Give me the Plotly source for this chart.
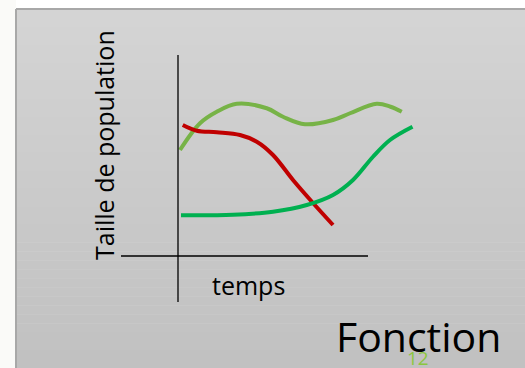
import plotly.graph_objects as go

W, H = 525, 368

# ---- data (time units, population units) ----
light_t = [0.08, 0.88, 1.55, 2.35, 3.55, 4.2, 5.08, 6.2, 6.88, 7.95, 8.5, 8.95]
light_p = [4.24, 5.31, 5.77, 6.09, 5.91, 5.57, 5.27, 5.44, 5.71, 6.09, 5.97, 5.77]

red_t = [0.19, 0.75, 1.55, 2.48, 3.15, 3.8, 4.6, 5.4, 6.2]
red_p = [5.24, 5.01, 4.95, 4.84, 4.57, 4.04, 3.04, 2.12, 1.24]

green_t = [0.12, 2.2, 3.8, 5.15, 6.2, 7.0, 7.8, 8.48, 9.38]
green_p = [1.63, 1.65, 1.77, 2.04, 2.44, 3.04, 3.97, 4.64, 5.17]

x_label = "temps"
y_label = "Taille de population"
title_text = "Fonction"
page_no = "12"

# pixel mapping helpers (layout only)
X0, Y0, S = 178.0, 256.0, 25.0
def tx(px):
    return (px - X0) / S
def py_(py):
    return (Y0 - py) / S

fig = go.Figure()
for t, p, c in [(light_t, light_p, "#77b347"),
                (red_t, red_p, "#c00000"),
                (green_t, green_p, "#00b050")]:
    fig.add_trace(go.Scatter(x=t, y=p, mode="lines",
                             line=dict(color=c, width=4, shape="spline", smoothing=1.0),
                             hoverinfo="skip", showlegend=False))

shapes = []
# left strip
shapes.append(dict(type="rect", xref="paper", yref="paper", x0=0, x1=16/W, y0=0, y1=1,
                   fillcolor="#fafaf8", line=dict(width=0), layer="below"))
# slide background gradient
top = (212, 212, 212)
bot = (193, 193, 193)
n = 40
y_start, y_end = 9.0, 368.0
for i in range(n):
    f = i / (n - 1)
    col = tuple(int(round(top[k] + (bot[k] - top[k]) * f)) for k in range(3))
    ya = y_start + (y_end - y_start) * i / n
    yb = y_start + (y_end - y_start) * (i + 1) / n + 0.5
    shapes.append(dict(type="rect", xref="paper", yref="paper",
                       x0=16/W, x1=1, y0=1 - min(yb, H)/H, y1=1 - ya/H,
                       fillcolor="rgb(%d,%d,%d)" % col, line=dict(width=0), layer="below"))
# slide border
shapes.append(dict(type="line", xref="paper", yref="paper", x0=16/W, x1=1, y0=1-9/H, y1=1-9/H,
                   line=dict(color="#a8a8a8", width=2), layer="below"))
shapes.append(dict(type="line", xref="paper", yref="paper", x0=16/W, x1=16/W, y0=0, y1=1-9/H,
                   line=dict(color="#a8a8a8", width=2), layer="below"))
# axes cross
shapes.append(dict(type="line", xref="x", yref="y", x0=0, x1=0, y0=py_(55), y1=py_(302),
                   line=dict(color="#000000", width=1.3)))
shapes.append(dict(type="line", xref="x", yref="y", x0=tx(121), x1=tx(368), y0=0, y1=0,
                   line=dict(color="#000000", width=1.3)))

font = "Open Sans, sans-serif"
annotations = [
    dict(text=y_label, xref="paper", yref="paper", x=104/W, y=1-145/H, textangle=-90,
         showarrow=False, font=dict(family=font, size=25, color="#000000"),
         xanchor="center", yanchor="middle"),
    dict(text=x_label, xref="paper", yref="paper", x=248/W, y=1-285/H,
         showarrow=False, font=dict(family=font, size=25, color="#000000"),
         xanchor="center", yanchor="middle"),
    dict(text=title_text, xref="paper", yref="paper", x=418/W, y=1-336/H,
         showarrow=False, font=dict(family=font, size=41, color="#000000"),
         xanchor="center", yanchor="middle"),
    dict(text=page_no, xref="paper", yref="paper", x=418/W, y=1-358/H,
         showarrow=False, font=dict(family=font, size=19, color="#8cc63f"),
         xanchor="center", yanchor="middle"),
]

fig.update_layout(
    width=W, height=H, margin=dict(l=0, r=0, t=0, b=0),
    paper_bgcolor="#ffffff", plot_bgcolor="rgba(0,0,0,0)",
    xaxis=dict(range=[tx(0), tx(W)], visible=False, fixedrange=True),
    yaxis=dict(range=[py_(H), py_(0)], visible=False, fixedrange=True),
    shapes=shapes, annotations=annotations, showlegend=False,
)
fig.write_html("out.html", config=dict(displayModeBar=False))
